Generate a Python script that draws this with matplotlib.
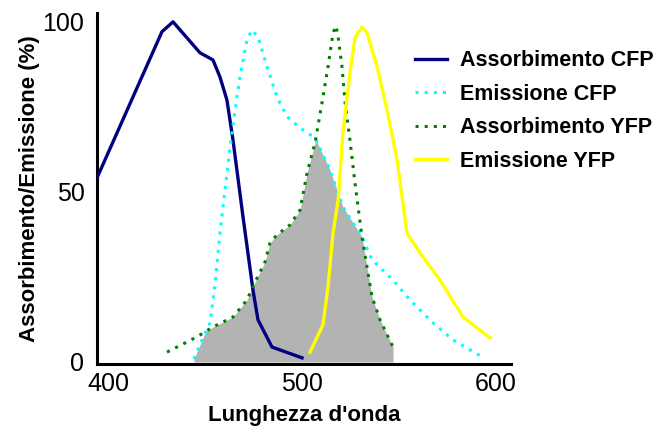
import numpy as np
import matplotlib.pyplot as plt

plt.rcParams['font.family'] = ['Liberation Sans', 'DejaVu Sans']

# CFP absorption spectrum (wavelength nm, %)
abs_cfp_x = [394.3, 427.8, 433.5, 447.4, 454.1, 457.7, 461.3, 464.4, 469.6, 474.7, 477.3, 484.5, 500.0]
abs_cfp_y = [54.1, 97.1, 100.0, 90.9, 88.8, 83.8, 77.0, 65.3, 42.6, 21.2, 12.4, 4.4, 1.2]

# CFP emission spectrum
em_cfp_x = [444.3, 450.0, 452.6, 455.2, 457.7, 462.9, 465.5, 468.0, 471.6, 474.2, 477.3, 482.0,
            487.1, 492.3, 499.0, 506.7, 514.4, 521.1, 530.9, 536.1, 546.9, 555.7, 567.5, 577.8, 592.8]
em_cfp_y = [0.9, 8.5, 11.5, 23.2, 37.9, 63.2, 74.1, 83.8, 94.7, 97.6, 95.6, 86.8,
            77.9, 72.1, 68.8, 65.9, 56.5, 45.6, 36.8, 30.0, 24.1, 18.2, 11.5, 6.5, 1.5]

# YFP absorption spectrum
abs_yfp_x = [430.4, 445.9, 454.1, 464.4, 471.6, 475.8, 480.9, 483.5, 487.1, 493.8, 499.0, 502.6,
             506.7, 510.3, 513.4, 516.0, 517.5, 518.6, 520.6, 522.2, 524.7, 527.3, 530.9, 533.5,
             536.1, 540.2, 546.9]
abs_yfp_y = [2.9, 7.4, 10.3, 13.2, 18.2, 23.5, 29.4, 35.0, 37.4, 40.3, 44.7, 55.6,
             64.4, 76.2, 86.8, 96.8, 98.8, 95.6, 86.8, 76.2, 65.3, 52.6, 36.8, 27.9,
             19.1, 12.4, 4.4]

# YFP emission spectrum
em_yfp_x = [504.1, 510.8, 513.4, 516.0, 518.6, 521.1, 524.7, 527.3, 530.9, 533.5, 538.7, 543.8,
            549.0, 554.1, 560.8, 571.1, 583.0, 596.9]
em_yfp_y = [2.9, 10.9, 22.1, 37.9, 47.6, 67.4, 85.0, 95.3, 98.5, 96.8, 86.8, 74.1,
            59.4, 37.9, 32.1, 24.1, 13.2, 7.1]

x_ticks = [400, 500, 600]
y_ticks = [0, 50, 100]

fig = plt.figure(figsize=(6.61, 4.28), dpi=100)
ax = fig.add_axes([0.1467, 0.1495, 0.6263, 0.8201])

# spectral overlap (CFP emission vs YFP absorption)
grid = np.linspace(em_cfp_x[0], abs_yfp_x[-1], 600)
overlap = np.minimum(np.interp(grid, em_cfp_x, em_cfp_y), np.interp(grid, abs_yfp_x, abs_yfp_y))
ax.fill_between(grid, overlap, 0, color='#b3b3b3', lw=0, zorder=1)

dots = (0, (1, 2))
ax.plot(abs_cfp_x, abs_cfp_y, color='#000080', lw=2.4, label='Assorbimento CFP', zorder=3)
ax.plot(em_cfp_x, em_cfp_y, color='#00ffff', lw=2.2, ls=dots, label='Emissione CFP', zorder=3)
ax.plot(abs_yfp_x, abs_yfp_y, color='#008000', lw=2.2, ls=dots, label='Assorbimento YFP', zorder=3)
ax.plot(em_yfp_x, em_yfp_y, color='#ffff00', lw=2.4, label='Emissione YFP', zorder=3)

ax.set_xlim(394.3, 607.7)
ax.set_ylim(-0.6, 102.6)
ax.set_xticks(x_ticks)
ax.set_yticks(y_ticks)
ax.tick_params(length=0, labelsize=18)
ax.tick_params(axis='x', pad=6)
ax.tick_params(axis='y', pad=9)

for side in ['top', 'right']:
    ax.spines[side].set_visible(False)
for side in ['left', 'bottom']:
    ax.spines[side].set_linewidth(2.2)

ax.set_xlabel("Lunghezza d'onda", fontsize=16, fontweight='bold', labelpad=6)
ax.set_ylabel('Assorbimento/Emissione (%)', fontsize=16, fontweight='bold', labelpad=2)

fig.legend(loc='upper left', bbox_to_anchor=(0.628, 0.883), frameon=False,
           borderpad=0, borderaxespad=0, handlelength=1.5, handletextpad=0.6,
           labelspacing=0.58, prop={'size': 15.5, 'weight': 'bold'})

fig.savefig('out.png', dpi=100)
